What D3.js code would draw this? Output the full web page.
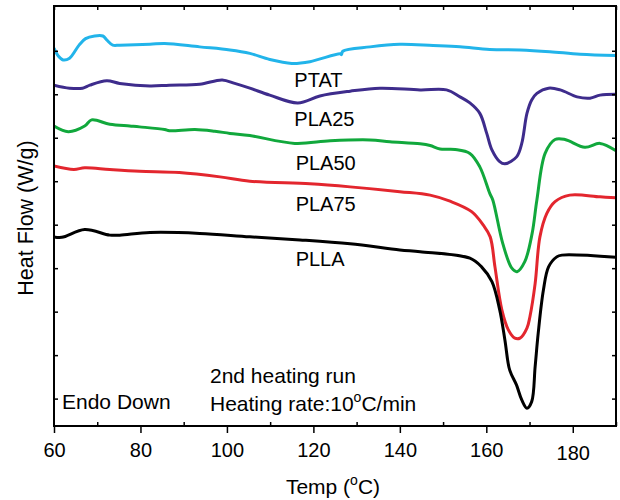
<!DOCTYPE html>
<html>
<head>
<meta charset="utf-8">
<script src="https://cdn.jsdelivr.net/npm/d3@7"></script>
<style>
  body { margin: 0; background: #fff; }
  text { font-family: "Liberation Sans", Arial, sans-serif; }
</style>
</head>
<body>
<div id="chart"></div>
<script>
// DSC curves, 2nd heating run (temp in C, heat flow in arbitrary shifted units)
var ptat = [[60,8.06],[61,7.88],[62.1,7.79],[63.6,7.83],[65.8,8.13],[67.3,8.28],[69.4,8.34],[71.3,8.34],[72.2,8.25],[73.6,8.13],[75.2,8.13],[82.2,8.15],[85.6,8.17],[93.7,8.09],[100.7,8.02],[105.3,7.94],[109.9,7.80],[115.0,7.71],[119.2,7.75],[126.2,7.93],[126.5,7.91],[126.8,7.99],[133.1,8.09],[140,8.15],[147.7,8.12],[153.9,8.09],[160.8,8.03],[167.8,8.02],[174.7,7.98],[181.7,7.92],[190,7.89]];
var pla25 = [[60,7.21],[63.6,7.14],[66.6,7.14],[68.3,7.21],[72.2,7.31],[75.2,7.25],[82.2,7.19],[86.7,7.21],[93.7,7.23],[98.9,7.33],[101.8,7.25],[105.3,7.14],[109.9,6.98],[116.4,6.80],[121.5,6.96],[128.5,7.07],[135.4,7.14],[144.7,7.10],[150.8,7.10],[153.9,6.94],[156.2,6.80],[158.5,6.56],[160.1,6.10],[161.3,5.72],[163.1,5.45],[164.3,5.40],[167.0,5.56],[168.2,5.87],[169.4,6.56],[170.5,6.87],[171.7,7.02],[174.4,7.14],[177.1,7.10],[181.0,6.94],[184.0,6.91],[186.3,6.98],[190,7.00]];
var pla50 = [[60,6.27],[63.3,6.14],[67.1,6.27],[68.7,6.41],[72.9,6.31],[77.5,6.27],[79.8,6.25],[85.6,6.19],[86.7,6.16],[92.6,6.19],[97.2,6.15],[100.7,6.10],[105.3,6.05],[115.7,5.87],[123.9,5.93],[133.1,5.95],[137.7,5.91],[144.7,5.86],[147,5.82],[149.3,5.74],[152.8,5.73],[156.2,5.64],[158.5,5.33],[160.8,4.72],[161.5,4.57],[163.8,3.57],[165.9,3.00],[167.1,2.92],[168.9,3.15],[170.6,3.80],[171.7,4.57],[173.6,5.64],[175.9,5.96],[178.2,5.96],[182.8,5.78],[186.3,5.87],[190,5.70]];
var pla75 = [[60,5.35],[64.6,5.27],[67.1,5.31],[72.9,5.27],[79.8,5.23],[89.0,5.20],[98.4,5.10],[105.3,5.00],[119.2,4.94],[128.5,4.87],[140.0,4.76],[147.0,4.68],[151.6,4.54],[156.6,4.30],[159.3,3.99],[160.9,3.72],[162.0,3.03],[163.6,2.04],[165.1,1.58],[166.6,1.39],[167.8,1.39],[169.4,1.62],[170.1,1.89],[171.3,2.65],[172.4,3.72],[174.0,4.26],[175.9,4.53],[179.3,4.68],[186.3,4.64],[190,4.62]];
var plla = [[60,3.72],[61.8,3.71],[67.1,3.89],[72.9,3.76],[75.2,3.76],[82.2,3.82],[93.7,3.80],[105.3,3.72],[116.9,3.65],[128.5,3.56],[140.0,3.42],[144.7,3.38],[156.2,3.23],[158.9,3.03],[161.3,2.69],[163.1,2.04],[164.3,1.35],[165.4,0.66],[167.0,0.31],[168.2,-0.03],[169.4,-0.22],[170.5,-0.07],[171.3,0.74],[172.0,1.50],[173.2,2.49],[174.4,3.03],[176.3,3.26],[177.5,3.30],[190,3.25]];

var names = ["PTAT", "PLA25", "PLA50", "PLA75", "PLLA"];
var curves = [ptat, pla25, pla50, pla75, plla];
var colors = ["#22b4ea", "#3e2c8c", "#11a83c", "#e3262e", "#000000"];
// where each name label sits (temp, heat flow)
var labelPos = [[115.6, 7.17], [115.6, 6.28], [115.9, 5.25], [115.9, 4.31], [115.9, 3.04]];

var xTicks = [60, 80, 100, 120, 140, 160, 180];
var yTicks = [0, 1, 2, 3, 4, 5, 6, 7, 8];

var W = 620, H = 500;
var mLeft = 54, mRight = 616, mTop = 6, mBottom = 426;

var x = d3.scaleLinear().domain([60, 190]).range([mLeft, mRight]);
var y = d3.scaleLinear().domain([-0.63, 9.03]).range([mBottom, mTop]);

var svg = d3.select("#chart").append("svg")
  .attr("width", W)
  .attr("height", H);

svg.append("clipPath").attr("id", "clip")
  .append("rect")
  .attr("x", mLeft).attr("y", mTop)
  .attr("width", mRight - mLeft).attr("height", mBottom - mTop);

var line = d3.line()
  .x(function(d) { return x(d[0]); })
  .y(function(d) { return y(d[1]); })
  .curve(d3.curveCatmullRom.alpha(0.5));

svg.append("g").attr("clip-path", "url(#clip)")
  .selectAll("path")
  .data(curves)
  .enter()
  .append("path")
  .attr("d", line)
  .attr("fill", "none")
  .attr("stroke", function(d, i) { return colors[i]; })
  .attr("stroke-width", 3)
  .attr("stroke-linejoin", "round");

// curve names
svg.selectAll(".lbl")
  .data(names)
  .enter()
  .append("text")
  .attr("class", "lbl")
  .attr("x", function(d, i) { return x(labelPos[i][0]); })
  .attr("y", function(d, i) { return y(labelPos[i][1]); })
  .attr("font-size", 20)
  .text(function(d) { return d; });

// axes
var minor = d3.range(70, 191, 20);
var tens = d3.range(60, 191, 10);

var gb = svg.append("g").attr("transform", "translate(0," + mBottom + ")")
  .call(d3.axisBottom(x).tickValues(xTicks).tickSize(7).tickPadding(6).tickFormat(d3.format("d")));
gb.selectAll("text").attr("font-size", 20).attr("font-family", "'Liberation Sans', Arial, sans-serif")
  .attr("fill", "#000")
  .attr("dy", function(d) { return d == 180 ? "1.05em" : "0.88em"; });
svg.append("g").attr("transform", "translate(0," + mBottom + ")")
  .call(d3.axisTop(x).tickValues(minor).tickSize(4).tickFormat(""));

svg.append("g").attr("transform", "translate(0," + mTop + ")")
  .call(d3.axisBottom(x).tickValues(tens).tickSize(4).tickFormat(""));

svg.append("g").attr("transform", "translate(" + mLeft + ",0)")
  .call(d3.axisRight(y).tickValues(yTicks).tickSize(4).tickFormat(""));
svg.append("g").attr("transform", "translate(" + mRight + ",0)")
  .call(d3.axisLeft(y).tickValues(yTicks).tickSize(4).tickFormat(""));

svg.selectAll(".domain").remove();
svg.selectAll(".tick line").attr("stroke", "#000").attr("stroke-width", 1.5);

svg.append("rect")
  .attr("x", mLeft).attr("y", mTop)
  .attr("width", mRight - mLeft).attr("height", mBottom - mTop)
  .attr("fill", "none")
  .attr("stroke", "#000")
  .attr("stroke-width", 2);

// axis titles
var xt = svg.append("text")
  .attr("x", (mLeft + mRight) / 2 - 2)
  .attr("y", 494)
  .attr("text-anchor", "middle")
  .attr("font-size", 21);
xt.append("tspan").text("Temp (");
xt.append("tspan").attr("font-size", 14).attr("dy", -9).text("o");
xt.append("tspan").attr("dy", 9).text("C)");

svg.append("text")
  .attr("transform", "translate(33,218) rotate(-90)")
  .attr("text-anchor", "middle")
  .attr("font-size", 21.5)
  .text("Heat Flow (W/g)");

// notes
svg.append("text")
  .attr("x", 62).attr("y", 409)
  .attr("font-size", 21)
  .text("Endo Down");
svg.append("text")
  .attr("x", 210).attr("y", 383)
  .attr("font-size", 21)
  .text("2nd heating run");
var hr = svg.append("text")
  .attr("x", 210).attr("y", 411)
  .attr("font-size", 21);
hr.append("tspan").text("Heating rate:10");
hr.append("tspan").attr("font-size", 14).attr("dy", -9).text("o");
hr.append("tspan").attr("dy", 9).text("C/min");
</script>
</body>
</html>
